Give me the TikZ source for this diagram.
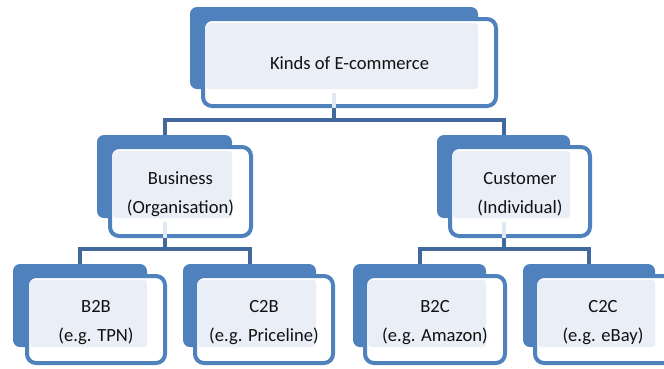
\documentclass[tikz,border=0pt]{standalone}
\usepackage{fontspec}
\setmainfont{Carlito}
\definecolor{backblue}{HTML}{4F81BD}
\definecolor{conblue}{HTML}{41699E}
\definecolor{lightfill}{HTML}{EAEFF7}
\definecolor{stemlight}{HTML}{E2E8F2}
\definecolor{txt}{HTML}{111111}
\begin{document}
\begin{tikzpicture}[x=1pt,y=-1pt,
  backbox/.style={fill=backblue, rounded corners=7pt, inner sep=0pt, outer sep=0pt, anchor=north west},
  frontbox/.style={draw=backblue, line width=4pt, fill=white, rounded corners=9pt, inner sep=0pt, outer sep=0pt, anchor=north west},
  label/.style={font=\fontsize{18.6pt}{29pt}\selectfont, text=txt, align=center, inner sep=0pt},
  conn/.style={draw=conblue, line width=4pt},
  stem/.style={draw=stemlight, line width=4pt},
  lightbox/.style={fill=lightfill, rounded corners=3pt}
]
\clip (0,0) rectangle (664,368);
\useasboundingbox (0,0) rectangle (664,368);

% back boxes
\node[backbox, minimum width=288pt, minimum height=82pt] (topB) at (190,7) {};
\node[backbox, minimum width=135pt, minimum height=83pt] (busB) at (97,135) {};
\node[backbox, minimum width=133pt, minimum height=83pt] (cusB) at (437,135) {};
\node[backbox, minimum width=134pt, minimum height=83pt] (b2bB) at (13,264) {};
\node[backbox, minimum width=133pt, minimum height=83pt] (c2bB) at (183,264) {};
\node[backbox, minimum width=133pt, minimum height=83pt] (b2cB) at (353,264) {};
\node[backbox, minimum width=132pt, minimum height=83pt] (c2cB) at (523,264) {};

% connectors
\draw[conn] (topB.south) -- ++(0,31) -| (busB.north);
\draw[conn] (topB.south) -- ++(0,31) -| (cusB.north);
\draw[conn] (busB.south) -- ++(0,31) -| (b2bB.north);
\draw[conn] (busB.south) -- ++(0,31) -| (c2bB.north);
\draw[conn] (cusB.south) -- ++(0,31) -| (b2cB.north);
\draw[conn] (cusB.south) -- ++(0,31) -| (c2cB.north);

% front boxes
\node[frontbox, minimum width=293pt, minimum height=87pt] (topF) at (203,19) {};
\node[frontbox, minimum width=141pt, minimum height=89pt] (busF) at (110,147) {};
\node[frontbox, minimum width=140pt, minimum height=89pt] (cusF) at (450,147) {};
\node[frontbox, minimum width=138pt, minimum height=87pt] (b2bF) at (27,276) {};
\node[frontbox, minimum width=138pt, minimum height=87pt] (c2bF) at (195,276) {};
\node[frontbox, minimum width=140pt, minimum height=87pt] (b2cF) at (365,276) {};
\node[frontbox, minimum width=140pt, minimum height=87pt] (c2cF) at (535,276) {};

% light text areas
\fill[lightbox] (206,23) rectangle (topB.south east);
\fill[lightbox] (113,151) rectangle (busB.south east);
\fill[lightbox] (453,151) rectangle (cusB.south east);
\fill[lightbox] (30,280) rectangle (b2bB.south east);
\fill[lightbox] (198,280) rectangle (c2bB.south east);
\fill[lightbox] (368,280) rectangle (b2cB.south east);
\fill[lightbox] (538,280) rectangle (c2cB.south east);

% light stems inside front boxes
\draw[stem] ([yshift=-4pt]topB.south) -- ([yshift=-2pt]topB.south |- topF.south);
\draw[stem] ([yshift=-4pt]busB.south) -- ([yshift=-2pt]busB.south |- busF.south);
\draw[stem] ([yshift=-4pt]cusB.south) -- ([yshift=-2pt]cusB.south |- cusF.south);

% labels
\node[label] (topT) at ([yshift=-1pt]topF.center) {Kinds of E-commerce};
\node[label] (busT) at ([yshift=-3pt]busF.center) {Business\\(Organisation)};
\node[label] (cusT) at ([yshift=-3pt]cusF.center) {Customer\\(Individual)};
\node[label] (b2bT) at ([yshift=-3pt]b2bF.center) {B2B\\(e.g. TPN)};
\node[label] (c2bT) at ([yshift=-3pt]c2bF.center) {C2B\\(e.g. Priceline)};
\node[label] (b2cT) at ([yshift=-3pt]b2cF.center) {B2C\\(e.g. Amazon)};
\node[label] (c2cT) at ([shift={(-2pt,-3pt)}]c2cF.center) {C2C\\(e.g. eBay)};
\end{tikzpicture}
\end{document}
